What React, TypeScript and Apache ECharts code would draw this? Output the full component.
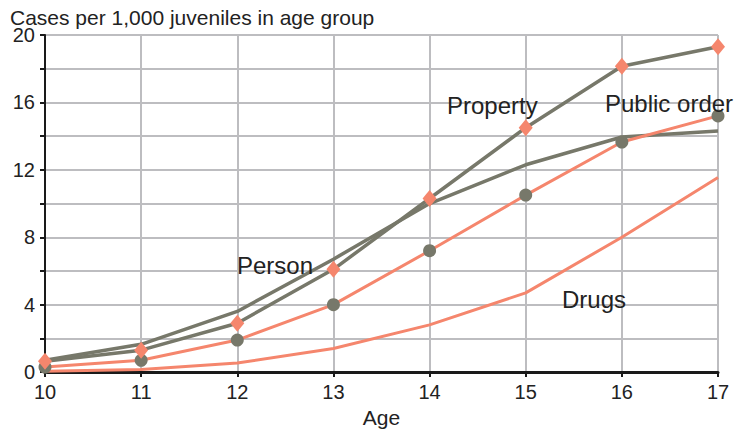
import React, { useEffect, useRef } from "react";
import * as echarts from "echarts";

const ages = [10, 11, 12, 13, 14, 15, 16, 17];
const property = [0.64, 1.3, 2.9, 6.1, 10.3, 14.5, 18.15, 19.3];
const publicOrder = [0.3, 0.7, 1.9, 4.0, 7.2, 10.5, 13.65, 15.2];
const person = [0.7, 1.65, 3.6, 6.7, 10.0, 12.3, 13.95, 14.3];
const drugs = [0.05, 0.15, 0.54, 1.4, 2.8, 4.7, 8.0, 11.55];

const OLIVE = "#77786a";
const SALMON = "#f5866d";
const FONT = "'Liberation Sans', Arial, Helvetica, sans-serif";

const pairs = (ys: number[]) => ages.map((a, i) => [a, ys[i]]);

const note = (text: string, x: number, y: number) => ({
  type: "text",
  x,
  y,
  z: 10,
  style: { text, fontFamily: FONT, fontSize: 24, fill: "#222", verticalAlign: "middle" },
});

export default function App() {
  const ref = useRef<HTMLDivElement>(null);
  useEffect(() => {
    if (!ref.current) return;
    const chart = echarts.init(ref.current, null, { renderer: "svg" });
    chart.setOption({
      animation: false,
      backgroundColor: "#ffffff",
      grid: { left: 45, right: 23, top: 35, bottom: 52 },
      xAxis: {
        type: "value",
        min: 10,
        max: 17,
        interval: 1,
        name: "Age",
        nameLocation: "middle",
        nameGap: 30,
        nameTextStyle: { fontFamily: FONT, fontSize: 21, color: "#222" },
        axisLine: { show: true, onZero: false, lineStyle: { color: "#1a1a1a", width: 3 } },
        axisTick: { show: true, length: 5, lineStyle: { color: "#1a1a1a", width: 2 } },
        axisLabel: { fontFamily: FONT, fontSize: 20, color: "#222", margin: 10 },
        splitLine: { show: true, lineStyle: { color: "#bdbdc0", width: 2 } },
      },
      yAxis: {
        type: "value",
        min: 0,
        max: 20,
        interval: 2,
        axisLine: { show: true, lineStyle: { color: "#1a1a1a", width: 2 } },
        axisTick: { show: true, length: 5, lineStyle: { color: "#1a1a1a", width: 2 } },
        axisLabel: {
          fontFamily: FONT,
          fontSize: 20,
          lineHeight: 16,
          color: "#222",
          margin: 10,
          formatter: (v: number) => (v % 4 === 0 ? String(v) : ""),
        },
        splitLine: { show: true, lineStyle: { color: "#bdbdc0", width: 2 } },
      },
      series: [
        {
          name: "Drugs",
          type: "line",
          data: pairs(drugs),
          symbol: "none",
          lineStyle: { color: SALMON, width: 3 },
          z: 2,
        },
        {
          name: "Person",
          type: "line",
          data: pairs(person),
          symbol: "none",
          lineStyle: { color: OLIVE, width: 3.5 },
          z: 3,
        },
        {
          name: "Public order",
          type: "line",
          data: pairs(publicOrder),
          symbol: "circle",
          symbolSize: 13,
          itemStyle: { color: OLIVE },
          lineStyle: { color: SALMON, width: 3 },
          z: 4,
        },
        {
          name: "Property",
          type: "line",
          data: pairs(property),
          symbol: "diamond",
          symbolSize: [14, 17],
          itemStyle: { color: SALMON },
          lineStyle: { color: OLIVE, width: 3.5 },
          z: 5,
        },
      ],
      graphic: [
        {
          type: "text",
          x: 10,
          y: 17.5,
          style: {
            text: "Cases per 1,000 juveniles in age group",
            fontFamily: FONT,
            fontSize: 21,
            lineHeight: 17,
            fill: "#222",
            verticalAlign: "middle",
          },
        },
        note("Property", 447, 105),
        note("Public order", 605, 103.5),
        note("Person", 237, 265.5),
        note("Drugs", 562, 299.5),
      ],
    });
    return () => chart.dispose();
  }, []);
  return (
    <div
      ref={ref}
      style={{ position: "fixed", left: 0, top: 0, width: 741, height: 433, background: "#fff" }}
    />
  );
}
